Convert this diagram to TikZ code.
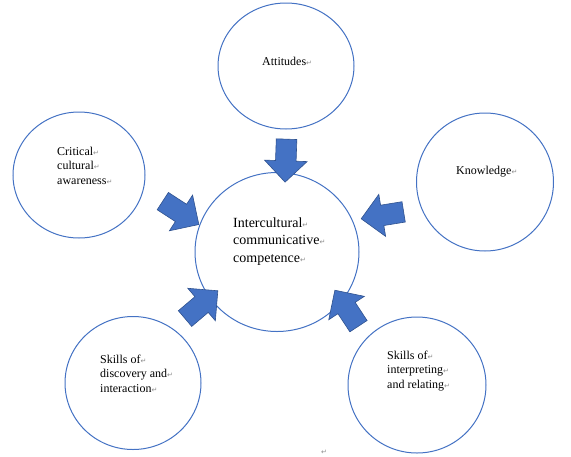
\documentclass[tikz,border=0pt]{standalone}
\usepackage{fontspec}
\setmainfont{Liberation Serif}
\newfontfamily\symfont{DejaVu Sans}
\usetikzlibrary{shapes.geometric,shapes.arrows}
\definecolor{wordblue}{HTML}{4472C4}
\definecolor{worddark}{HTML}{2F528F}
\newcommand\parmark{{\symfont\color{black!45}\fontsize{7}{7}\selectfont ↵}}
\tikzset{
  circ/.style={ellipse, draw=wordblue, line width=1pt, fill=white, inner sep=0pt},
  blockarrow/.style={single arrow, fill=wordblue, draw=worddark, line width=0.6pt,
    minimum height=43pt, single arrow head extend=11pt,
    inner xsep=0pt, inner ysep=10pt, text height=0pt, text depth=0pt, text width=0pt,
    anchor=center},
  lbl/.style={anchor=base west, inner sep=0pt, font=\fontsize{12}{14.5}\selectfont},
  biglbl/.style={anchor=base west, inner sep=0pt, font=\fontsize{14}{17.5}\selectfont}
}
\begin{document}
\begin{tikzpicture}[x=1pt,y=-1pt]
\useasboundingbox (0,0) rectangle (571,456);
% circles
\node[circ, minimum width=164pt, minimum height=159pt] (icc) at (277,252) {};
\node[circ, minimum width=136pt, minimum height=126pt] (att) at (286,66) {};
\node[circ, minimum width=132pt, minimum height=126pt] (cca) at (79,175) {};
\node[circ, minimum width=137pt, minimum height=138pt] (kno) at (485,182) {};
\node[circ, minimum width=136pt, minimum height=133pt] (sdi) at (133,383) {};
\node[circ, minimum width=138pt, minimum height=136pt] (sir) at (417,385) {};
% arrows
\node[blockarrow, rotate=-92] (a1) at (286,155.5) {};
\node[blockarrow, rotate=-33] (a2) at (176.5,210) {};
\node[blockarrow, rotate=-170.8] (a3) at (387.5,214.5) {};
\node[blockarrow, rotate=40.3] (a4) at (197.5,308) {};
\node[blockarrow, rotate=123.3] (a5) at (349.5,312.5) {};
% texts
\node[lbl] (tatt) at (262,65) {Attitudes\parmark};
\node[lbl] (tcca) at (57,155) {\begin{tabular}[t]{@{}l@{}}Critical\parmark\\cultural\parmark\\awareness\parmark\end{tabular}};
\node[biglbl] (ticc) at (233,227) {\begin{tabular}[t]{@{}l@{}}Intercultural\parmark\\communicative\parmark\\competence\parmark\end{tabular}};
\node[lbl] (tkno) at (456,174) {Knowledge\parmark};
\node[lbl] (tsdi) at (100,363) {\begin{tabular}[t]{@{}l@{}}Skills of\parmark\\discovery and\parmark\\interaction\parmark\end{tabular}};
\node[lbl] (tsir) at (387,359) {\begin{tabular}[t]{@{}l@{}}Skills of\parmark\\interpreting\parmark\\and relating\parmark\end{tabular}};
\node[anchor=base west, inner sep=0pt] (stray) at (321,454) {\parmark};
\end{tikzpicture}
\end{document}
